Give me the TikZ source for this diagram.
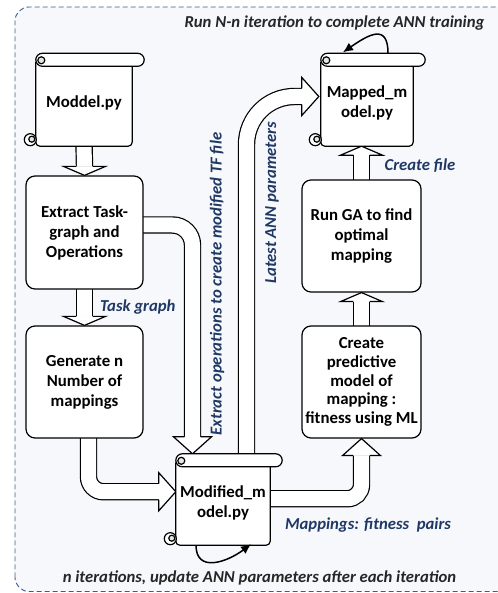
\documentclass[tikz,border=0pt]{standalone}
\usepackage{fontspec}
\setmainfont{Carlito}
\usetikzlibrary{calc,arrows.meta}
\definecolor{navy}{HTML}{1F3864}
\definecolor{bordc}{HTML}{3B5B8C}
\definecolor{bgc}{HTML}{F6F8FC}
\pgfdeclarelayer{bg}\pgfdeclarelayer{arr}\pgfdeclarelayer{deco}
\pgfsetlayers{bg,arr,deco,main}
\newcommand\dgboxfont{\fontsize{16.8}{20}\selectfont\bfseries}
\newcommand\dglabfont{\fontsize{16.7}{19}\selectfont\bfseries\itshape}
\tikzset{
 sk/.style={line width=1.2pt, draw=black},
 fat/.style={draw=black, line width=1.2pt, double=white, double distance=15pt},
 box/.style={draw=black, line width=1.2pt, rounded corners=9pt, fill=white, align=center, font=\dgboxfont, inner sep=0pt, minimum width=119pt, minimum height=112pt},
 scrollbody/.style={align=center, font=\dgboxfont, inner sep=0pt},
 lab/.style={font=\dglabfont, text=navy, inner sep=0pt},
 dlab/.style={font=\dglabfont, text=black!85, inner sep=0pt},
 pics/longhead/.style={code={
   \fill[white] (0,0) -- (-17,19) -- (-17,-19) -- cycle;
   \draw[sk, line join=miter] (-17,8.1) -- (-17,19) -- (0,0) -- (-17,-19) -- (-17,-8.1);}},
 pics/shorthead/.style={code={
   \fill[white] (0,0) -- (-9,21) -- (-9,-21) -- cycle;
   \draw[sk, line join=miter] (-9,8.1) -- (-9,21) -- (0,0) -- (-9,-21) -- (-9,-8.1);}},
 loopar/.style={line width=1.5pt, -{Latex[length=10pt,width=9pt]}},
}
\newcommand\scrollon[1]{%
\begin{pgfonlayer}{deco}
 \draw[sk, fill=white, rounded corners=4pt] ([yshift=-2pt]#1.north west) -- (#1.south west) -- (#1.south east) -- ([yshift=-2pt]#1.north east);
 \draw[sk, fill=white, rounded corners=6.5pt] ([yshift=6.5pt]#1.north west) rectangle ([xshift=12pt,yshift=-6.5pt]#1.north east);
 \draw[sk, fill=gray!20] ([xshift=5.5pt,yshift=-0.5pt]#1.north west) circle (3.5pt);
 \draw[sk, fill=white] ([xshift=-5.5pt,yshift=6.5pt]#1.south west) circle (6pt);
 \draw[sk, fill=gray!20] ([xshift=-4pt,yshift=7pt]#1.south west) circle (3pt);
\end{pgfonlayer}}
\begin{document}
\begin{tikzpicture}[x=1pt,y=1pt]
\useasboundingbox (0,0) rectangle (497,593);
\begin{pgfonlayer}{bg}
\draw[bordc, dash pattern=on 5pt off 3pt, line width=0.9pt, fill=bgc, rounded corners=14pt] (15,1.5) rectangle (520,586);
\end{pgfonlayer}
% nodes
\node[scrollbody, minimum width=96pt, minimum height=86pt] (moddel) at (84,490) {Moddel.py};
\node[box, minimum width=117pt, minimum height=113pt] (extract) at (84.5,360.5) {Extract Task-\\graph and\\Operations};
\node[box, minimum width=117pt] (gen) at (84.5,211) {Generate n\\Number of\\mappings};
\node[scrollbody, minimum width=94pt, minimum height=84.5pt] (modified) at (223,90.25) {Modified\_m\\odel.py};
\node[scrollbody, minimum width=92pt, minimum height=86pt] (mapped) at (367,490) {Mapped\_m\\odel.py};
\node[box] (runga) at (361.5,357) {Run GA to find\\optimal\\mapping};
\node[box, font=\fontsize{16.8}{18.6}\selectfont\bfseries] (pred) at (361.5,211) {Create\\predictive\\model of\\mapping :\\fitness using ML};
\scrollon{moddel}
\scrollon{modified}
\scrollon{mapped}
\coordinate (modtop) at ([yshift=6.5pt]modified.north);
\coordinate (maptop) at ([yshift=6.5pt]mapped.north);
% fat arrows
\begin{pgfonlayer}{arr}
\draw[fat] ([yshift=3pt]moddel.south) -- ([yshift=9pt]extract.north);
\pic[rotate=-90] at (extract.north) {shorthead};
\draw[fat] ([yshift=3pt]extract.south) -- ([yshift=9pt]gen.north);
\pic[rotate=-90] at (gen.north) {shorthead};
\draw[fat] ([yshift=-3pt]runga.north) -- ([yshift=-9pt]runga.north |- mapped.south);
\pic[rotate=90] at (runga.north |- mapped.south) {shorthead};
\draw[fat] ([yshift=-3pt]pred.north) -- ([yshift=-9pt]runga.south);
\pic[rotate=90] at (runga.south) {shorthead};
\draw[fat, rounded corners=14pt] ([xshift=-3pt,yshift=4pt]modified.east) -| ([yshift=-17pt]pred.south);
\pic[rotate=90] at (pred.south) {longhead};
\draw[fat, rounded corners=15pt] ([xshift=4pt,yshift=3pt]gen.south) |- ([xshift=-17pt,yshift=11pt]modified.west);
\pic at ([yshift=11pt]modified.west) {longhead};
\draw[fat, rounded corners=20pt] ([xshift=-3pt,yshift=7.5pt]extract.east) -| ([xshift=-30.5pt,yshift=17pt]modtop);
\pic[rotate=-90] at ([xshift=-30.5pt]modtop) {longhead};
\draw[fat, rounded corners=48pt] ([xshift=23.5pt,yshift=-4pt]modtop) |- ([xshift=-19pt,yshift=6.5pt]mapped.west);
\pic at ([xshift=-2pt,yshift=6.5pt]mapped.west) {longhead};
\end{pgfonlayer}
% loops
\draw[loopar] ([xshift=21pt]maptop) .. controls +(0,30) and +(26,18) .. ([xshift=-24pt,yshift=1pt]maptop);
\draw[loopar] ([xshift=-27pt]modified.south) .. controls +(0,-28) and +(-24,-18) .. ([xshift=28pt,yshift=1pt]modified.south);
% labels
\node[dlab] (toplab) at (334.5,570) {Run N-n iteration to complete ANN training};
\node[lab, anchor=west] (tglab) at (100,286) {Task graph};
\node[lab, rotate=90] (exlab) at (217,309) {Extract operations to create modified TF file};
\node[lab, rotate=90] (anlab) at (272,390) {Latest ANN parameters};
\node[lab] (cflab) at (420,427) {Create file};
\node[lab] (mplab) at (368,68) {Mappings: fitness\ \ pairs};
\node[dlab] (botlab) at (259.5,15) {n iterations, update ANN parameters after each iteration};
\end{tikzpicture}
\end{document}
